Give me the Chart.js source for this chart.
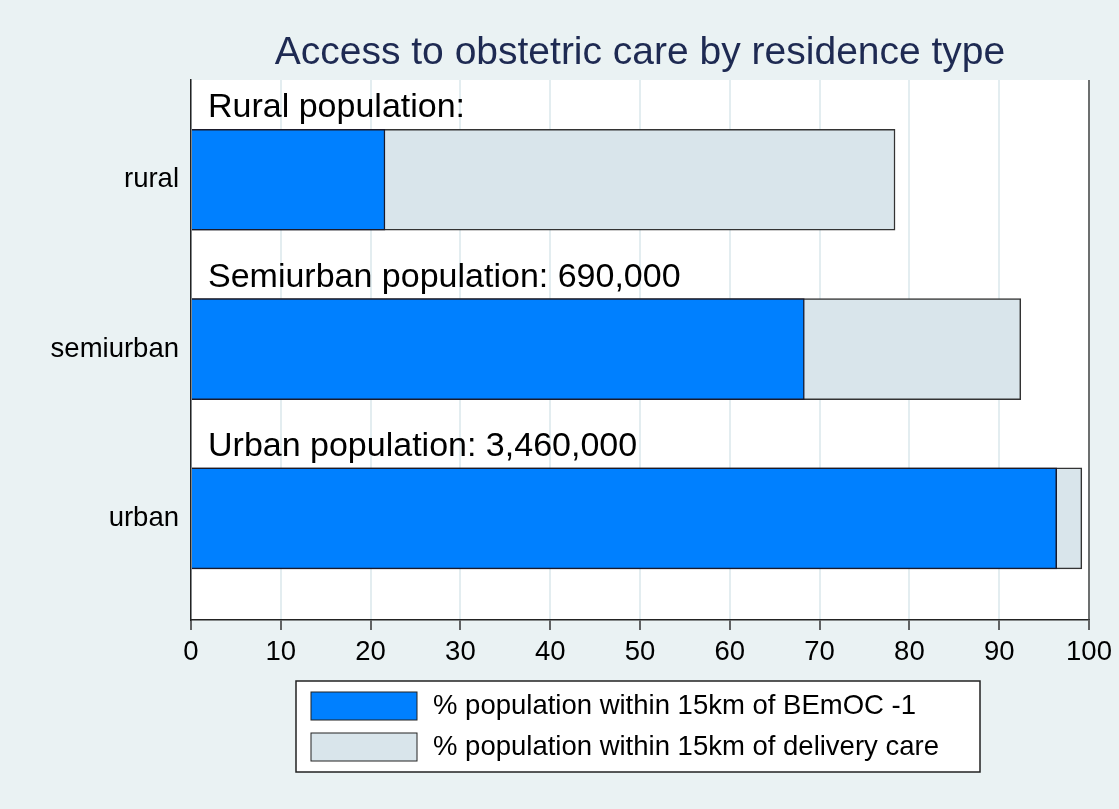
<!DOCTYPE html>
<html>
<head>
<meta charset="utf-8">
<title>Access to obstetric care by residence type</title>
<script src="https://cdn.jsdelivr.net/npm/chart.js@4/dist/chart.umd.min.js"></script>
<style>
  html, body { margin: 0; padding: 0; background: #eaf2f3; }
  #wrap { width: 1119px; height: 809px; position: relative; }
</style>
</head>
<body>
<div id="wrap"><canvas id="chart"></canvas></div>
<script>
// Access to obstetric care, % of population by residence type

const categories = ['rural', 'semiurban', 'urban'];
const groupTitles = ['Rural population:', 'Semiurban population: 690,000', 'Urban population: 3,460,000'];
const bemocPct = [21.6, 68.3, 96.4];      // within 15km of BEmOC -1
const deliveryPct = [78.4, 92.4, 99.2];   // within 15km of delivery care
const xTicks = [0, 10, 20, 30, 40, 50, 60, 70, 80, 90, 100];

const FONT = "'Liberation Sans', Arial, sans-serif";
const BG = '#eaf2f3';
const BAR_H = 101;

const toPoints = vals => vals.map((v, i) => ({ x: v, y: i }));

// background + white plot region
const backdrop = {
  id: 'backdrop',
  beforeDraw(chart){
    const { ctx, chartArea: a } = chart;
    ctx.save();
    ctx.fillStyle = BG;
    ctx.fillRect(0, 0, chart.width, chart.height);
    ctx.fillStyle = '#fff';
    ctx.fillRect(a.left, a.top, a.right - a.left, a.bottom - a.top);
    ctx.restore();
  }
};

// titles above each bar + right frame line
const groupLabels = {
  id: 'groupLabels',
  afterDatasetsDraw(chart){
    const { ctx, chartArea: a } = chart;
    const y = chart.scales.y;
    ctx.save();
    ctx.fillStyle = '#000';
    ctx.font = `34px ${FONT}`;
    ctx.textBaseline = 'alphabetic';
    ctx.textAlign = 'left';
    groupTitles.forEach((t, i) => {
      ctx.fillText(t, a.left + 17, y.getPixelForValue(i) - BAR_H / 2 - 12);
    });
    ctx.strokeStyle = '#444';
    ctx.lineWidth = 1.5;
    ctx.beginPath();
    ctx.moveTo(a.right, a.top);
    ctx.lineTo(a.right, a.bottom);
    ctx.stroke();
    ctx.restore();
  }
};

// boxed legend below the axis
const boxLegend = {
  id: 'boxLegend',
  afterDraw(chart){
    const { ctx, chartArea: a } = chart;
    const w = 684, h = 91;
    const left = (a.left + a.right) / 2 - w / 2 - 2;
    const top = a.bottom + 61;
    ctx.save();
    ctx.fillStyle = '#fff';
    ctx.fillRect(left, top, w, h);
    ctx.strokeStyle = '#222';
    ctx.lineWidth = 1.5;
    ctx.strokeRect(left, top, w, h);
    ctx.font = `27.5px ${FONT}`;
    ctx.textBaseline = 'middle';
    ctx.textAlign = 'left';
    chart.data.datasets.forEach((ds, i) => {
      const ry = top + 11 + i * 41;
      ctx.fillStyle = ds.backgroundColor;
      ctx.fillRect(left + 15, ry, 106, 28);
      ctx.strokeStyle = '#222';
      ctx.lineWidth = 1;
      ctx.strokeRect(left + 15, ry, 106, 28);
      ctx.fillStyle = '#000';
      ctx.fillText(ds.label, left + 137, ry + 14);
    });
    ctx.restore();
  }
};

const chart = new Chart(document.getElementById('chart'), {
  type: 'bar',
  data: {
    datasets: [
      {
        label: '% population within 15km of BEmOC -1',
        data: toPoints(bemocPct),
        backgroundColor: '#0080ff',
        borderColor: '#1a1a2a',
        borderWidth: 1.5,
        grouped: false,
        barThickness: BAR_H
      },
      {
        label: '% population within 15km of delivery care',
        data: toPoints(deliveryPct),
        backgroundColor: '#d9e5eb',
        borderColor: '#333',
        borderWidth: 1.5,
        grouped: false,
        barThickness: BAR_H
      }
    ]
  },
  options: {
    indexAxis: 'y',
    responsive: true,
    maintainAspectRatio: false,
    animation: false,
    layout: { padding: { left: 0, right: 30, top: 0, bottom: 129 } },
    plugins: {
      legend: { display: false },
      tooltip: { enabled: false },
      title: {
        display: true,
        text: 'Access to obstetric care by residence type',
        color: '#1e2a52',
        fullSize: false,
        font: { family: FONT, size: 39, weight: 'normal' },
        padding: { top: 29.6, bottom: 3.6 }
      }
    },
    scales: {
      x: {
        type: 'linear',
        min: 0, max: 100,
        afterBuildTicks: s => { s.ticks = xTicks.map(v => ({ value: v })); },
        afterFit: s => { s.height = 60; },
        grid: { color: '#e3edf0', lineWidth: 2, tickColor: '#333', tickLength: 10, tickWidth: 1.5 },
        border: { display: true, color: '#222', width: 1.5 },
        ticks: { color: '#000', padding: 6, font: { family: FONT, size: 27.5 } }
      },
      y: {
        type: 'linear',
        reverse: true,
        offset: false,
        min: -0.589, max: 2.6,
        afterBuildTicks: s => { s.ticks = categories.map((c, i) => ({ value: i })); },
        afterFit: s => { s.width = 191; },
        grid: { display: false },
        border: { display: true, color: '#222', width: 1.5 },
        ticks: {
          color: '#000',
          padding: 4,
          font: { family: FONT, size: 27.5 },
          callback: v => categories[v]
        }
      }
    }
  },
  plugins: [backdrop, groupLabels, boxLegend]
});
</script>
</body>
</html>
